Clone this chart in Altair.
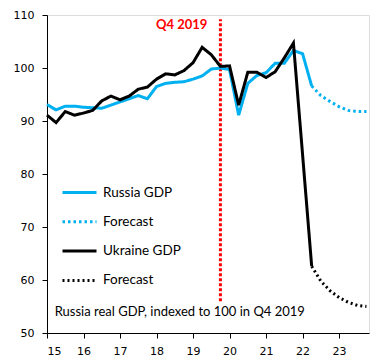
import altair as alt
import pandas as pd

# ---- data ----
quarters = [15.0, 15.25, 15.5, 15.75, 16.0, 16.25, 16.5, 16.75, 17.0, 17.25,
            17.5, 17.75, 18.0, 18.25, 18.5, 18.75, 19.0, 19.25, 19.5, 19.75,
            20.0, 20.25, 20.5, 20.75, 21.0, 21.25, 21.5, 21.75, 22.0, 22.25]
russia_gdp = [93.1, 92.1, 92.8, 92.8, 92.6, 92.5, 92.4, 93.0, 93.6, 94.2,
              94.8, 94.2, 96.5, 97.1, 97.3, 97.4, 97.9, 98.5, 99.8, 100.0,
              99.7, 91.1, 97.1, 98.6, 99.1, 100.9, 100.9, 103.3, 102.7, 96.6]
ukraine_gdp = [91.1, 89.7, 91.8, 91.1, 91.5, 92.0, 93.8, 94.7, 94.0, 94.7,
               96.0, 96.4, 97.9, 98.9, 98.7, 99.5, 101.0, 103.9, 102.5, 100.3,
               100.4, 93.0, 99.2, 99.2, 98.2, 99.3, 101.9, 104.7, 83.7, 62.6]

fc_quarters = [22.25, 22.5, 22.75, 23.0, 23.25, 23.5, 23.75]
russia_fc = [96.6, 94.8, 93.7, 92.7, 92.0, 91.8, 91.8]
ukraine_fc = [62.6, 59.8, 58.0, 56.7, 55.8, 55.2, 55.0]

series_names = ["Russia GDP", "Russia forecast", "Ukraine GDP", "Ukraine forecast"]
year_ticks = [15, 16, 17, 18, 19, 20, 21, 22, 23]
y_ticks = [50, 60, 70, 80, 90, 100, 110]

marker_x = 19.75          # Q4 2019
marker_label = "Q4 2019"
note = "Russia real GDP, indexed to 100 in Q4 2019"

# ---- build table ----
rows = []
for q, v in zip(quarters, russia_gdp):
    rows.append({"q": q, "v": v, "series": "Russia GDP"})
for q, v in zip(fc_quarters, russia_fc):
    rows.append({"q": q, "v": v, "series": "Russia forecast"})
for q, v in zip(quarters, ukraine_gdp):
    rows.append({"q": q, "v": v, "series": "Ukraine GDP"})
for q, v in zip(fc_quarters, ukraine_fc):
    rows.append({"q": q, "v": v, "series": "Ukraine forecast"})
df = pd.DataFrame(rows)

x_scale = alt.Scale(domain=[15, 23.82], nice=False, zero=False)
y_scale = alt.Scale(domain=[50, 110], nice=False, zero=False)

x_enc = alt.X("q:Q", scale=x_scale,
              axis=alt.Axis(values=year_ticks, format="d", title=None, grid=False,
                            tickSize=5, labelPadding=7, domainColor="black",
                            tickColor="black", labelColor="black",
                            labelFont="DejaVu Sans", labelFontSize=11))
y_enc = alt.Y("v:Q", scale=y_scale,
              axis=alt.Axis(values=y_ticks, title=None, grid=False,
                            tickSize=5, labelPadding=8, domainColor="black",
                            tickColor="black", labelColor="black",
                            labelFont="DejaVu Sans", labelFontSize=11))

legend = alt.Legend(orient="none", legendX=14, legendY=159, title=None,
                    symbolType="stroke", symbolSize=1156, symbolStrokeWidth=3,
                    labelFont="Lato", labelFontSize=13.5, labelColor="black",
                    labelOffset=5, rowPadding=4.3, padding=0,
                    labelExpr="indexof(datum.label, 'forecast') >= 0 ? 'Forecast' : datum.label")

color_enc = alt.Color(
    "series:N",
    scale=alt.Scale(domain=series_names,
                    range=["#00B0F0", "#00B0F0", "#000000", "#000000"]),
    sort=series_names, legend=legend)
dash_enc = alt.StrokeDash(
    "series:N",
    scale=alt.Scale(domain=series_names,
                    range=[[1, 0], [2.5, 3], [1, 0], [2, 3]]),
    sort=series_names, legend=legend)

base = alt.Chart(df)

russia = base.transform_filter(
    alt.FieldOneOfPredicate(field="series", oneOf=["Russia GDP", "Russia forecast"])
).mark_line(strokeWidth=3).encode(x=x_enc, y=y_enc, color=color_enc, strokeDash=dash_enc)

ukraine = base.transform_filter(
    alt.FieldOneOfPredicate(field="series", oneOf=["Ukraine GDP", "Ukraine forecast"])
).mark_line(strokeWidth=3).encode(x=x_enc, y=y_enc, color=color_enc, strokeDash=dash_enc)

marker_df = pd.DataFrame({"q": [marker_x], "v": [56.0], "v2": [109.2],
                          "lv": [108.1], "label": [marker_label]})
rule = alt.Chart(marker_df).mark_rule(color="#FF0000", strokeWidth=3,
                                      strokeDash=[3, 2]).encode(
    x=alt.X("q:Q", scale=x_scale), y=alt.Y("v:Q", scale=y_scale), y2="v2:Q")
rule_label = alt.Chart(marker_df).mark_text(
    color="#FF0000", font="Lato", fontWeight="bold", fontSize=13,
    align="right", baseline="middle", dx=-13).encode(
    x=alt.X("q:Q", scale=x_scale), y=alt.Y("lv:Q", scale=y_scale), text="label:N")

note_df = pd.DataFrame({"q": [15.21], "v": [54.05], "label": [note]})
note_text = alt.Chart(note_df).mark_text(
    color="black", font="Lato", fontSize=13, align="left", baseline="middle").encode(
    x=alt.X("q:Q", scale=x_scale), y=alt.Y("v:Q", scale=y_scale), text="label:N")

chart = alt.layer(rule, russia, ukraine, rule_label, note_text).properties(
    width=322, height=318,
    autosize=alt.AutoSizeParams(type="none"),
    padding={"left": 39, "top": 7, "right": 6, "bottom": 25},
).configure_view(strokeWidth=0).configure(background="white")

chart.save("out.html", embed_options={"renderer": "svg", "actions": False})
